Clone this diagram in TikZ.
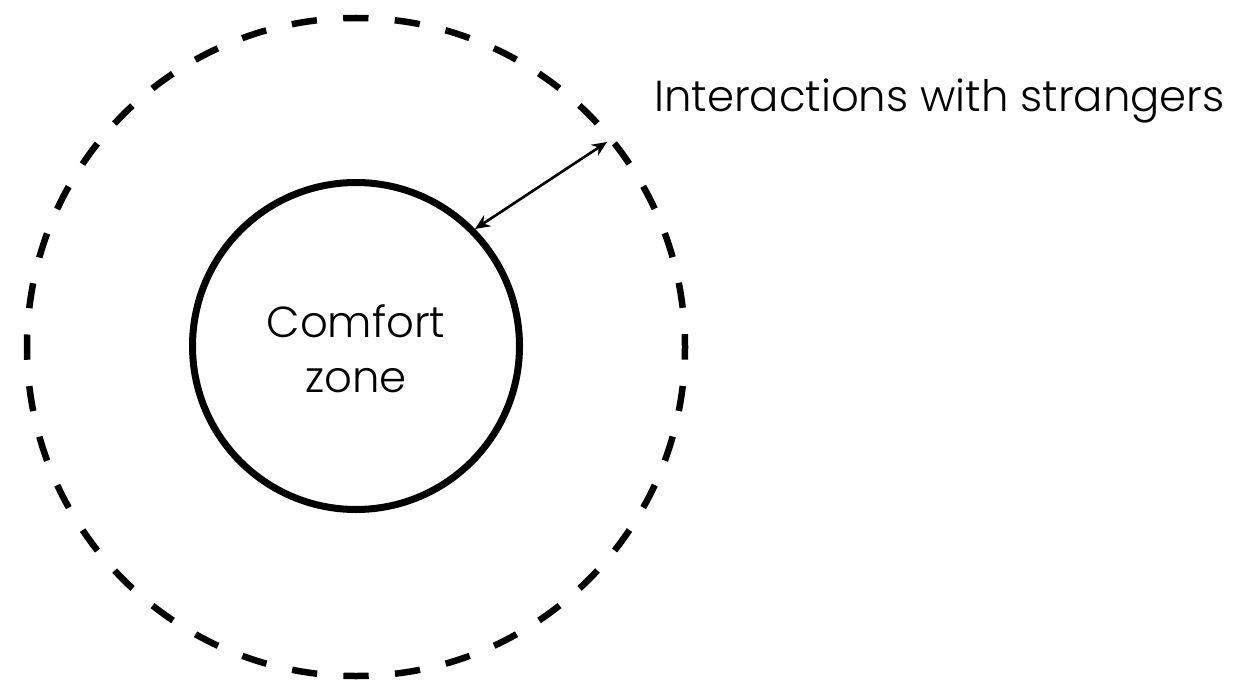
\documentclass[tikz,border=0pt]{standalone}
\usepackage{fontspec}
\setmainfont{Poppins}[UprightFont=* Light]
\usetikzlibrary{arrows.meta}
\begin{document}
\begin{tikzpicture}[x=1pt,y=-1pt,
  outerzone/.style={draw=black,line width=6.5pt,dash pattern=on 25.3pt off 26.38pt,dash phase=12.65pt},
  innerzone/.style={draw=black,line width=7pt},
  label/.style={inner sep=0pt,font=\fontsize{43.4}{55}\selectfont},
  gap/.style={line width=2.6pt,{Stealth[length=15pt,width=13pt,inset=5pt]}-{Stealth[length=15pt,width=13pt,inset=5pt]}}]
\useasboundingbox (0,0) rectangle (1241,682);
\fill[white] (0,0) rectangle (1241,682);
\draw[outerzone] (356,347) circle[radius=329];
\draw[innerzone] (356,346) circle[radius=163.5];
\node[label,align=center] (comfort) at (356,349) {Comfort\\zone};
\node[label,anchor=base west] (strangers) at (654,112) {Interactions with strangers};
\coordinate (innerpt) at (475,229);
\coordinate (outerpt) at (607,142);
\draw[gap] (innerpt) -- (outerpt);
\end{tikzpicture}
\end{document}
